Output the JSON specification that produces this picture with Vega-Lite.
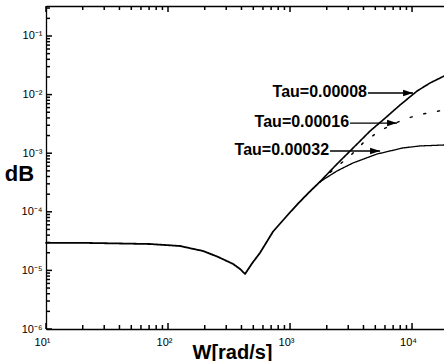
{
  "$schema": "https://vega.github.io/schema/vega-lite/v6.json",
  "width": 398,
  "height": 323,
  "autosize": "none",
  "padding": {"left": 46, "top": 6, "right": 0, "bottom": 32},
  "background": "white",
  "config": {
    "view": {"stroke": null},
    "font": "Liberation Sans",
    "axis": {
      "grid": false,
      "domainColor": "black",
      "domainWidth": 1.3,
      "labelColor": "black",
      "labelFont": "Liberation Sans",
      "labelFontSize": 11,
      "labelOverlap": false,
      "labelFlush": false,
      "titleColor": "black",
      "titleFont": "Liberation Sans",
      "titleFontWeight": "bold"
    }
  },
  "datasets": {
    "curves": [
      {"series": "shared", "w": 10, "v": 2.95e-5},
      {"series": "shared", "w": 20, "v": 2.95e-5},
      {"series": "shared", "w": 40, "v": 2.88e-5},
      {"series": "shared", "w": 71, "v": 2.82e-5},
      {"series": "shared", "w": 125, "v": 2.61e-5},
      {"series": "shared", "w": 194, "v": 2.14e-5},
      {"series": "shared", "w": 257, "v": 1.70e-5},
      {"series": "shared", "w": 341, "v": 1.29e-5},
      {"series": "shared", "w": 389, "v": 1.06e-5},
      {"series": "shared", "w": 428, "v": 8.69e-6},
      {"series": "shared", "w": 489, "v": 1.32e-5},
      {"series": "shared", "w": 568, "v": 2.0e-5},
      {"series": "shared", "w": 726, "v": 4.6e-5},
      {"series": "shared", "w": 1000, "v": 9.8e-5},
      {"series": "shared", "w": 1202, "v": 1.48e-4},
      {"series": "shared", "w": 1445, "v": 2.19e-4},
      {"series": "shared", "w": 1762, "v": 3.26e-4},
      {"series": "0.00008", "w": 1762, "v": 3.26e-4},
      {"series": "0.00008", "w": 2339, "v": 6.05e-4},
      {"series": "0.00008", "w": 3105, "v": 1.09e-3},
      {"series": "0.00008", "w": 3750, "v": 1.61e-3},
      {"series": "0.00008", "w": 4529, "v": 2.39e-3},
      {"series": "0.00008", "w": 5781, "v": 3.69e-3},
      {"series": "0.00008", "w": 7980, "v": 6.65e-3},
      {"series": "0.00008", "w": 10990, "v": 0.0115},
      {"series": "0.00008", "w": 14060, "v": 0.0158},
      {"series": "0.00008", "w": 18280, "v": 0.0207},
      {"series": "0.00016", "w": 1762, "v": 3.26e-4},
      {"series": "0.00016", "w": 2339, "v": 5.58e-4},
      {"series": "0.00016", "w": 3105, "v": 8.95e-4},
      {"series": "0.00016", "w": 3963, "v": 1.49e-3},
      {"series": "0.00016", "w": 5260, "v": 2.30e-3},
      {"series": "0.00016", "w": 6982, "v": 3.15e-3},
      {"series": "0.00016", "w": 9268, "v": 3.99e-3},
      {"series": "0.00016", "w": 12300, "v": 4.67e-3},
      {"series": "0.00016", "w": 18280, "v": 5.46e-3},
      {"series": "0.00032", "w": 1762, "v": 3.26e-4},
      {"series": "0.00032", "w": 2427, "v": 4.97e-4},
      {"series": "0.00032", "w": 3281, "v": 6.81e-4},
      {"series": "0.00032", "w": 5164, "v": 9.68e-4},
      {"series": "0.00032", "w": 8433, "v": 1.23e-3},
      {"series": "0.00032", "w": 11640, "v": 1.33e-3},
      {"series": "0.00032", "w": 18280, "v": 1.38e-3}
    ],
    "notes": [
      {"label": "Tau=0.00008", "x0": 4355, "x1": 10190, "y": 0.01064},
      {"label": "Tau=0.00016", "x0": 3105, "x1": 7534, "y": 0.00327},
      {"label": "Tau=0.00032", "x0": 2128, "x1": 5470, "y": 0.00109}
    ],
    "xticks": [
      {"t": 10, "kind": "major"}, {"t": 100, "kind": "major"}, {"t": 1000, "kind": "major"}, {"t": 10000, "kind": "major"},
      {"t": 20, "kind": "minor"}, {"t": 30, "kind": "minor"}, {"t": 40, "kind": "minor"}, {"t": 50, "kind": "minor"},
      {"t": 60, "kind": "minor"}, {"t": 70, "kind": "minor"}, {"t": 80, "kind": "minor"}, {"t": 90, "kind": "minor"},
      {"t": 200, "kind": "minor"}, {"t": 300, "kind": "minor"}, {"t": 400, "kind": "minor"}, {"t": 500, "kind": "minor"},
      {"t": 600, "kind": "minor"}, {"t": 700, "kind": "minor"}, {"t": 800, "kind": "minor"}, {"t": 900, "kind": "minor"},
      {"t": 2000, "kind": "minor"}, {"t": 3000, "kind": "minor"}, {"t": 4000, "kind": "minor"}, {"t": 5000, "kind": "minor"},
      {"t": 6000, "kind": "minor"}, {"t": 7000, "kind": "minor"}, {"t": 8000, "kind": "minor"}, {"t": 9000, "kind": "minor"}
    ],
    "yticks": [
      {"t": 1e-6, "kind": "major"}, {"t": 1e-5, "kind": "major"}, {"t": 1e-4, "kind": "major"},
      {"t": 1e-3, "kind": "major"}, {"t": 1e-2, "kind": "major"}, {"t": 0.1, "kind": "major"},
      {"t": 2e-6, "kind": "minor"}, {"t": 3e-6, "kind": "minor"}, {"t": 4e-6, "kind": "minor"}, {"t": 5e-6, "kind": "minor"},
      {"t": 6e-6, "kind": "minor"}, {"t": 7e-6, "kind": "minor"}, {"t": 8e-6, "kind": "minor"}, {"t": 9e-6, "kind": "minor"},
      {"t": 2e-5, "kind": "minor"}, {"t": 3e-5, "kind": "minor"}, {"t": 4e-5, "kind": "minor"}, {"t": 5e-5, "kind": "minor"},
      {"t": 6e-5, "kind": "minor"}, {"t": 7e-5, "kind": "minor"}, {"t": 8e-5, "kind": "minor"}, {"t": 9e-5, "kind": "minor"},
      {"t": 2e-4, "kind": "minor"}, {"t": 3e-4, "kind": "minor"}, {"t": 4e-4, "kind": "minor"}, {"t": 5e-4, "kind": "minor"},
      {"t": 6e-4, "kind": "minor"}, {"t": 7e-4, "kind": "minor"}, {"t": 8e-4, "kind": "minor"}, {"t": 9e-4, "kind": "minor"},
      {"t": 2e-3, "kind": "minor"}, {"t": 3e-3, "kind": "minor"}, {"t": 4e-3, "kind": "minor"}, {"t": 5e-3, "kind": "minor"},
      {"t": 6e-3, "kind": "minor"}, {"t": 7e-3, "kind": "minor"}, {"t": 8e-3, "kind": "minor"}, {"t": 9e-3, "kind": "minor"},
      {"t": 2e-2, "kind": "minor"}, {"t": 3e-2, "kind": "minor"}, {"t": 4e-2, "kind": "minor"}, {"t": 5e-2, "kind": "minor"},
      {"t": 6e-2, "kind": "minor"}, {"t": 7e-2, "kind": "minor"}, {"t": 8e-2, "kind": "minor"}, {"t": 9e-2, "kind": "minor"},
      {"t": 0.2, "kind": "minor"}, {"t": 0.3, "kind": "minor"}
    ]
  },
  "layer": [
    {
      "data": {"name": "curves"},
      "mark": {"type": "line", "color": "black", "strokeCap": "round", "strokeJoin": "round"},
      "encoding": {
        "x": {
          "field": "w", "type": "quantitative",
          "scale": {"type": "log", "domain": [10, 18280], "nice": false},
          "axis": {
            "orient": "bottom",
            "title": "W[rad/s]",
            "titleFontSize": 20,
            "titleX": 186,
            "titleY": 29,
            "titleAlign": "center",
            "titleBaseline": "alphabetic",
            "values": [10, 100, 1000, 10000],
            "labelExpr": "'10' + ['¹','²','³','⁴'][round(log(datum.value)/LN10) - 1]",
            "ticks": false,
            "tickSize": 0,
            "labelPadding": 7,
            "labelOffset": -4
          }
        },
        "y": {
          "field": "v", "type": "quantitative",
          "scale": {"type": "log", "domain": [1e-6, 0.325], "nice": false},
          "axis": {
            "orient": "left",
            "title": "dB",
            "titleAngle": 0,
            "titleFontSize": 22,
            "titleX": -27,
            "titleY": 167,
            "titleAlign": "center",
            "titleBaseline": "middle",
            "values": [1e-6, 1e-5, 1e-4, 1e-3, 1e-2, 0.1],
            "labelExpr": "'10' + ['⁻⁶','⁻⁵','⁻⁴','⁻³','⁻²','⁻¹'][round(log(datum.value)/LN10) + 6]",
            "ticks": false,
            "tickSize": 0,
            "labelPadding": 4
          }
        },
        "detail": {"field": "series"},
        "strokeDash": {
          "field": "series", "type": "nominal",
          "scale": {"domain": ["shared", "0.00008", "0.00016", "0.00032"], "range": [[1, 0], [1, 0], [2, 12], [1, 0]]},
          "legend": null
        },
        "strokeWidth": {
          "field": "series", "type": "nominal",
          "scale": {"domain": ["shared", "0.00008", "0.00016", "0.00032"], "range": [1.8, 1.3, 1.6, 2]},
          "legend": null
        }
      }
    },
    {
      "data": {"name": "curves"},
      "mark": {"type": "line", "opacity": 0},
      "encoding": {
        "x": {
          "field": "w", "type": "quantitative",
          "axis": {"orient": "top", "title": null, "labels": false, "ticks": false, "tickSize": 0, "values": [10]}
        },
        "y": {"field": "v", "type": "quantitative", "axis": null},
        "detail": {"field": "series"}
      }
    },
    {
      "data": {"name": "xticks"},
      "transform": [{"filter": "datum.kind == 'major'"}],
      "mark": {"type": "rule", "color": "black", "strokeWidth": 1.5},
      "encoding": {
        "x": {"field": "t", "type": "quantitative", "axis": null},
        "y": {"datum": 1e-6, "type": "quantitative", "axis": null},
        "y2": {"datum": 1.266e-6}
      }
    },
    {
      "data": {"name": "xticks"},
      "transform": [{"filter": "datum.kind == 'minor'"}],
      "mark": {"type": "rule", "color": "black", "strokeWidth": 1.5},
      "encoding": {
        "x": {"field": "t", "type": "quantitative", "axis": null},
        "y": {"datum": 1e-6, "type": "quantitative", "axis": null},
        "y2": {"datum": 1.17e-6}
      }
    },
    {
      "data": {"name": "xticks"},
      "transform": [{"filter": "datum.kind == 'major'"}],
      "mark": {"type": "rule", "color": "black", "strokeWidth": 1.5},
      "encoding": {
        "x": {"field": "t", "type": "quantitative", "axis": null},
        "y": {"datum": 0.325, "type": "quantitative", "axis": null},
        "y2": {"datum": 0.2567}
      }
    },
    {
      "data": {"name": "xticks"},
      "transform": [{"filter": "datum.kind == 'minor'"}],
      "mark": {"type": "rule", "color": "black", "strokeWidth": 1.5},
      "encoding": {
        "x": {"field": "t", "type": "quantitative", "axis": null},
        "y": {"datum": 0.325, "type": "quantitative", "axis": null},
        "y2": {"datum": 0.2778}
      }
    },
    {
      "data": {"name": "yticks"},
      "transform": [{"filter": "datum.kind == 'major'"}],
      "mark": {"type": "rule", "color": "black", "strokeWidth": 1.5},
      "encoding": {
        "y": {"field": "t", "type": "quantitative", "axis": null},
        "x": {"datum": 10, "type": "quantitative", "axis": null},
        "x2": {"datum": 11.2}
      }
    },
    {
      "data": {"name": "yticks"},
      "transform": [{"filter": "datum.kind == 'minor'"}],
      "mark": {"type": "rule", "color": "black", "strokeWidth": 1.5},
      "encoding": {
        "y": {"field": "t", "type": "quantitative", "axis": null},
        "x": {"datum": 10, "type": "quantitative", "axis": null},
        "x2": {"datum": 10.78}
      }
    },
    {
      "data": {"name": "notes"},
      "mark": {"type": "rule", "color": "black", "strokeWidth": 1.3},
      "encoding": {
        "x": {"field": "x0", "type": "quantitative", "axis": null},
        "x2": {"field": "x1"},
        "y": {"field": "y", "type": "quantitative", "axis": null}
      }
    },
    {
      "data": {"name": "notes"},
      "mark": {"type": "point", "shape": "M0,0L-2,-0.65L-2,0.65Z", "size": 100, "filled": true, "color": "black", "opacity": 1, "strokeWidth": 0},
      "encoding": {
        "x": {"field": "x1", "type": "quantitative", "axis": null},
        "y": {"field": "y", "type": "quantitative", "axis": null}
      }
    },
    {
      "data": {"name": "notes"},
      "mark": {"type": "text", "align": "right", "baseline": "middle", "dx": -1, "dy": -1, "fontSize": 16, "fontWeight": "bold", "font": "Liberation Sans", "color": "black"},
      "encoding": {
        "x": {"field": "x0", "type": "quantitative", "axis": null},
        "y": {"field": "y", "type": "quantitative", "axis": null},
        "text": {"field": "label"}
      }
    }
  ],
  "resolve": {"axis": {"x": "independent", "y": "independent"}}
}
